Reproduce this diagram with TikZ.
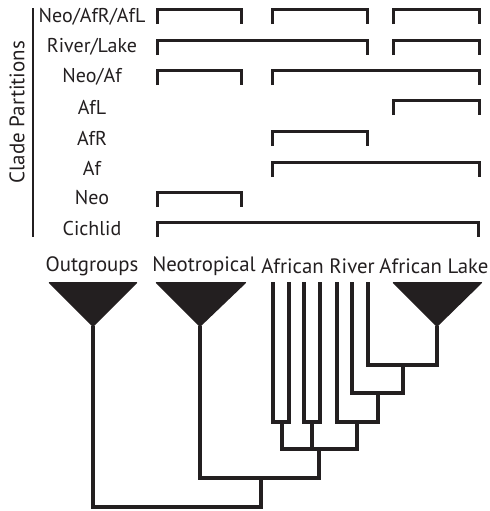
\documentclass[tikz,border=0pt]{standalone}
\usepackage{fontspec}
\setmainfont{PT Sans}
\definecolor{ink}{HTML}{231F20}
\begin{document}
\begin{tikzpicture}[x=0.5pt,y=-0.5pt,
  br/.style={line width=1.5pt, draw=ink, line join=miter},
  tr/.style={line width=1.8pt, draw=ink, line join=miter},
  lab/.style={font=\fontsize{10}{12}\selectfont, inner sep=0pt, text=ink},
  big/.style={font=\fontsize{10.4}{13}\selectfont, inner sep=0pt, text=ink},
  tri/.style={fill=ink, rounded corners=0.6pt}]
\useasboundingbox (0,0) rectangle (490,511);
% axis
\draw[line width=1pt, draw=ink] (33,8) -- (33,237);
\node[lab, rotate=90, font=\fontsize{10.5}{12}\selectfont] (axis) at (17,112) {Clade Partitions};
% row labels
\node[lab] (l1) at (92,17) {Neo/AfR/AfL};
\node[lab] (l2) at (92,47) {River/Lake};
\node[lab] (l3) at (92,77) {Neo/Af};
\node[lab] (l4) at (92,107) {AfL};
\node[lab] (l5) at (92,138) {AfR};
\node[lab] (l6) at (92,168) {Af};
\node[lab] (l7) at (92,198) {Neo};
\node[lab] (l8) at (92,228) {Cichlid};
% brackets
\newcommand{\brk}[3]{\draw[br] (#1,#3+15) -- (#1,#3) -- (#2,#3) -- (#2,#3+15);}
\brk{158}{242}{9}\brk{273}{368}{9}\brk{394}{480}{9}
\brk{158}{368}{40}\brk{394}{480}{40}
\brk{158}{242}{70}\brk{273}{480}{70}
\brk{394}{480}{100}
\brk{273}{368}{131}
\brk{273}{480}{162}
\brk{158}{242}{192}
\brk{158}{479}{222}
% bottom labels
\node[big] (t1) at (92,266) {Outgroups};
\node[big] (t2) at (204,266) {Neotropical};
\node[big] (t3) at (318,266) {African River};
\node[big] (t4) at (434,266) {African Lake};
% triangles
\fill[tri] (48,282) -- (138,282) -- (93,327) -- cycle;
\fill[tri] (155,282) -- (247,282) -- (200,327) -- cycle;
\fill[tri] (392,282) -- (483,282) -- (437,327) -- cycle;
% tree coordinates
\coordinate (og) at (93,326);
\coordinate (neo) at (200,326);
\coordinate (lake) at (437,326);
\coordinate (r1) at (273,282);
\coordinate (r2) at (289,282);
\coordinate (r3) at (304,282);
\coordinate (r4) at (320,282);
\coordinate (r5) at (337,282);
\coordinate (r6) at (352,282);
\coordinate (r7) at (368,282);
\coordinate (a1) at (403,365);
\coordinate (a2) at (378,393);
\coordinate (a3) at (357,422);
\coordinate (p1) at (282,422);
\coordinate (p2) at (312,422);
\coordinate (af) at (319,449);
\coordinate (ci) at (261,478);
\coordinate (root) at (261,507);
% tree
\draw[tr] (r7) |- (a1) -| (lake);
\draw[tr] (r6) |- (a2) -| (a1);
\draw[tr] (r5) |- (a3) -| (a2);
\draw[tr] (r1) |- (p1) -| (r2);
\draw[tr] (r3) |- (p2) -| (r4);
\draw[tr] (p1) |- (af) -| (a3);
\draw[tr] (p2) -- (p2 |- af);
\draw[tr] (neo) |- (ci) -| (af);
\draw[tr] (og) |- (root) -- (ci);
\end{tikzpicture}
\end{document}
